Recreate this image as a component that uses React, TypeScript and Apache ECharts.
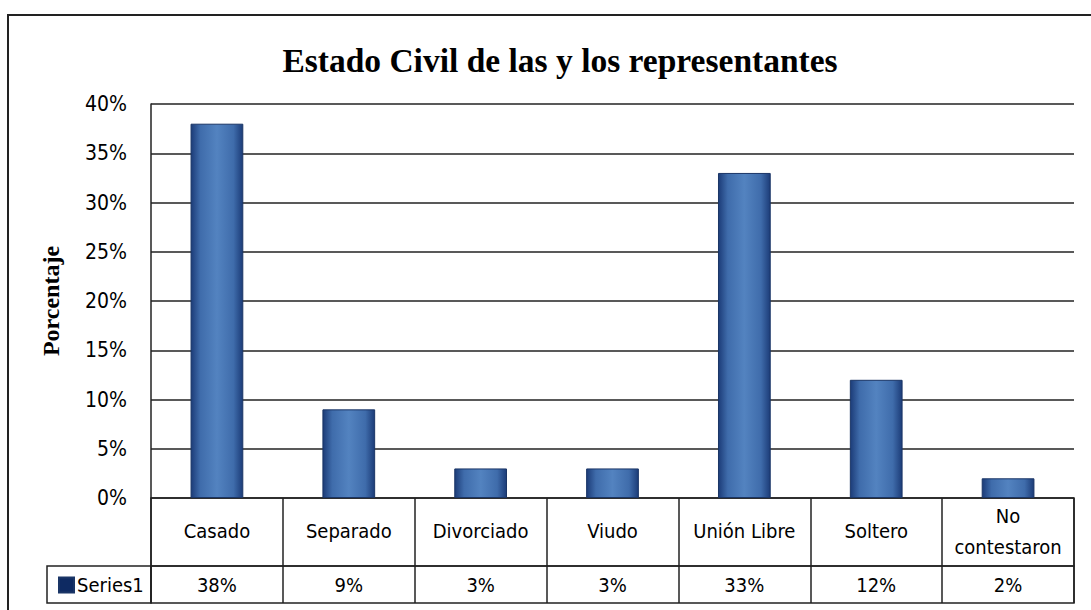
import React, { useEffect, useRef } from "react";
import * as echarts from "echarts";

const categories = ["Casado", "Separado", "Divorciado", "Viudo", "Unión Libre", "Soltero", "No contestaron"];
const values = [38, 9, 3, 3, 33, 12, 2];
const seriesName = "Series1";
const yTicks = { min: 0, max: 40, interval: 5 };

const SANS = '"Liberation Sans Narrow", "DejaVu Sans Condensed", "DejaVu Sans", sans-serif';
const SERIF = '"Liberation Serif", "Times New Roman", serif';
const LINE = "#222";

export default function App() {
  const ref = useRef<HTMLDivElement>(null);
  useEffect(() => {
    if (!ref.current) return;
    const chart = echarts.init(ref.current, null, { renderer: "svg" });
    const barColor = new echarts.graphic.LinearGradient(0, 0, 1, 0, [
      { offset: 0, color: "#1c3c78" },
      { offset: 0.18, color: "#3f6cab" },
      { offset: 0.5, color: "#5383c0" },
      { offset: 0.82, color: "#3f6cab" },
      { offset: 1, color: "#1c3c78" },
    ]);
    const hiddenY = (gi: number) => ({ type: "value", gridIndex: gi, show: false, min: 0, max: 1 });
    chart.setOption({
      animation: false,
      backgroundColor: "#fff",
      title: {
        text: "Estado Civil de las y los representantes",
        left: 555,
        textAlign: "center",
        top: 38,
        textStyle: { fontFamily: SERIF, fontWeight: "bold", fontSize: 33.5, color: "#000" },
      },
      legend: {
        left: 53,
        top: 570,
        icon: "rect",
        itemWidth: 15,
        itemHeight: 15,
        itemGap: 4,
        data: [{ name: seriesName, itemStyle: { color: "#0e2a62" } }],
        textStyle: { fontFamily: SANS, fontSize: 20, color: "#000", padding: [0, 0, 0, -2] },
      },
      graphic: [
        {
          type: "rect",
          shape: { x: 8, y: 15, width: 1200, height: 800 },
          style: { fill: "none", stroke: LINE, lineWidth: 2 },
          silent: true,
        },
      ],
      grid: [
        { left: 151, right: 17, top: 104, bottom: 112 },
        { left: 151, right: 17, top: 498, bottom: 44, show: true, borderColor: LINE, borderWidth: 1.5, backgroundColor: "transparent" },
        { left: 151, right: 17, top: 566, bottom: 7, show: true, borderColor: LINE, borderWidth: 1.5, backgroundColor: "transparent" },
        { left: 47, width: 104, top: 566, bottom: 7, show: true, borderColor: LINE, borderWidth: 1.5, backgroundColor: "transparent" },
      ],
      xAxis: [
        {
          type: "category",
          gridIndex: 0,
          data: categories,
          axisLine: { show: false },
          axisTick: { show: false },
          axisLabel: {
            interval: 0,
            margin: 33,
            verticalAlign: "middle",
            fontFamily: SANS,
            fontSize: 20,
            color: "#000",
            lineHeight: 31,
            formatter: (v: string) => v.replace("No ", "No\n"),
          },
        },
        {
          type: "category",
          gridIndex: 1,
          data: categories,
          axisLine: { show: false },
          axisTick: { show: false },
          axisLabel: { show: false },
          splitLine: { show: true, interval: 0, lineStyle: { color: LINE, width: 1.5 } },
        },
        {
          type: "category",
          gridIndex: 2,
          position: "top",
          data: values.map((v) => v + "%"),
          axisLine: { show: false },
          axisTick: { show: false },
          axisLabel: {
            inside: true,
            interval: 0,
            margin: 19,
            verticalAlign: "middle",
            fontFamily: SANS,
            fontSize: 20,
            color: "#000",
          },
          splitLine: { show: true, interval: 0, lineStyle: { color: LINE, width: 1.5 } },
        },
        { type: "category", gridIndex: 3, data: [seriesName], show: false },
      ],
      yAxis: [
        {
          type: "value",
          gridIndex: 0,
          min: yTicks.min,
          max: yTicks.max,
          interval: yTicks.interval,
          name: "Porcentaje",
          nameLocation: "middle",
          nameRotate: 90,
          nameGap: 88,
          nameTextStyle: { fontFamily: SERIF, fontWeight: "bold", fontSize: 24, color: "#000" },
          axisLine: { show: true, lineStyle: { color: LINE, width: 1.5 } },
          axisTick: { show: false },
          axisLabel: {
            margin: 24,
            fontFamily: SANS,
            fontSize: 21,
            color: "#000",
            formatter: (v: number) => v + "%",
          },
          splitLine: { show: true, lineStyle: { color: LINE, width: 1.5 } },
        },
        hiddenY(1),
        hiddenY(2),
        hiddenY(3),
      ],
      series: [
        {
          name: seriesName,
          type: "bar",
          xAxisIndex: 0,
          yAxisIndex: 0,
          data: values,
          barWidth: "40%",
          itemStyle: { color: barColor, borderColor: "#1a3566", borderWidth: 1 },
        },
      ],
    });
    return () => chart.dispose();
  }, []);
  return <div ref={ref} style={{ position: "fixed", left: 0, top: 0, width: 1091, height: 610 }} />;
}
